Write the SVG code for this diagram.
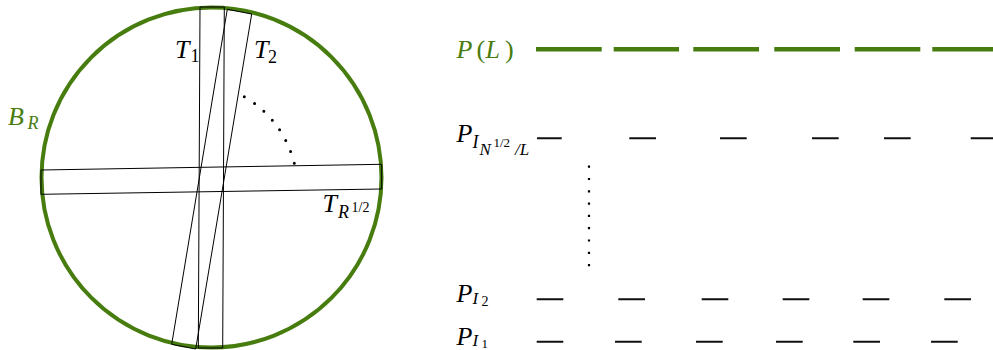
<svg xmlns="http://www.w3.org/2000/svg" width="993" height="350" viewBox="0 0 993 350">
<style>
.bg{fill:#fff}
.m{font-family:"Liberation Serif","DejaVu Serif",serif;font-style:italic;fill:#000}
.u{font-style:normal}
.g{fill:#477c0e}
.thin{fill:none;stroke:#000;stroke-width:1}
.ring{fill:none;stroke:#477c0e;stroke-width:4}
.gd{stroke:#477c0e;stroke-width:4.5;fill:none}
.bd{stroke:#111;stroke-width:2;fill:none}
.dots{fill:none;stroke:#000;stroke-width:3;stroke-linecap:round;stroke-dasharray:0 1}
.vdots{fill:none;stroke:#000;stroke-width:2.2;stroke-dasharray:2.2 10.1}
</style>
<rect class="bg" x="0" y="0" width="993" height="350"/>

<g id="ball">
  <circle class="ring" cx="211.5" cy="177.5" r="170"/>
  <text class="m g" x="8" y="125" font-size="26">B</text>
  <text class="m g" x="27.5" y="128.5" font-size="18">R</text>
</g>

<g id="tubes">
  <g id="T1">
    <polygon class="thin" points="200,7 224.3,7 222.7,348 198.3,348"/>
    <text class="m" x="175" y="58.3" font-size="26">T</text>
    <text class="m u" x="190.5" y="61.7" font-size="18">1</text>
  </g>
  <g id="T2">
    <polygon class="thin" points="227.3,9.3 251.7,14 195.7,349 171.7,344.3"/>
    <text class="m" x="254" y="58.3" font-size="26">T</text>
    <text class="m u" x="268" y="63" font-size="18">2</text>
  </g>
  <g id="TR">
    <polygon class="thin" points="41,170 381.7,164.3 381.7,189 41,194.3"/>
    <text class="m" x="322.5" y="211.7" font-size="26">T</text>
    <text class="m" x="338" y="218.3" font-size="18">R</text>
    <text class="m u" x="351.5" y="212" font-size="14">1/2</text>
  </g>
  <path id="arc" class="dots" pathLength="7" d="M244.3,96.7 Q283,120 294.3,163.3"/>
</g>

<g id="PL">
  <text class="m g" font-size="26" y="57.5"><tspan x="456.5">P</tspan><tspan class="u" x="476.5">(</tspan><tspan x="485.5">L</tspan><tspan class="u" x="505">)</tspan></text>
  <path class="gd" d="M536,49.3H601.7M613.7,49.3H679M693.3,49.3H759M774.3,49.3H840M854.7,49.3H920.3M932.3,49.3H993"/>
</g>

<g id="PN">
  <text class="m" x="456.5" y="141.7" font-size="26">P</text>
  <text class="m" x="472.5" y="147.5" font-size="18">I</text>
  <text class="m" x="479.5" y="155" font-size="17">N</text>
  <text class="m u" x="493.5" y="147" font-size="13">1/2</text>
  <text class="m" x="515" y="155" font-size="17">/L</text>
  <path class="bd" d="M537,138.3H561.7M629.3,138.3H656M720,138.3H746.7M812,138.3H838.7M884,138.3H910.7M970.7,138.3H997"/>
</g>

<path id="vdots" class="vdots" d="M589,165.6V268"/>

<g id="P2">
  <text class="m" x="456.5" y="302.3" font-size="26">P</text>
  <text class="m" x="472.5" y="303.5" font-size="17">I</text>
  <text class="m u" x="481.5" y="305.7" font-size="14">2</text>
  <path class="bd" d="M536.7,299.3H563.3M618.3,299.3H645M701.7,299.3H728.3M782.7,299.3H809.3M862.7,299.3H889.3M944.3,299.3H971"/>
</g>

<g id="P1">
  <text class="m" x="456.5" y="345" font-size="26">P</text>
  <text class="m" x="472.5" y="346" font-size="17">I</text>
  <text class="m u" x="481.5" y="347.5" font-size="13">1</text>
  <path class="bd" d="M536.7,341.7H563.3M615,341.7H641.7M696,341.7H722.7M776,341.7H802.7M853.3,341.7H880M931,341.7H957.7"/>
</g>
</svg>
